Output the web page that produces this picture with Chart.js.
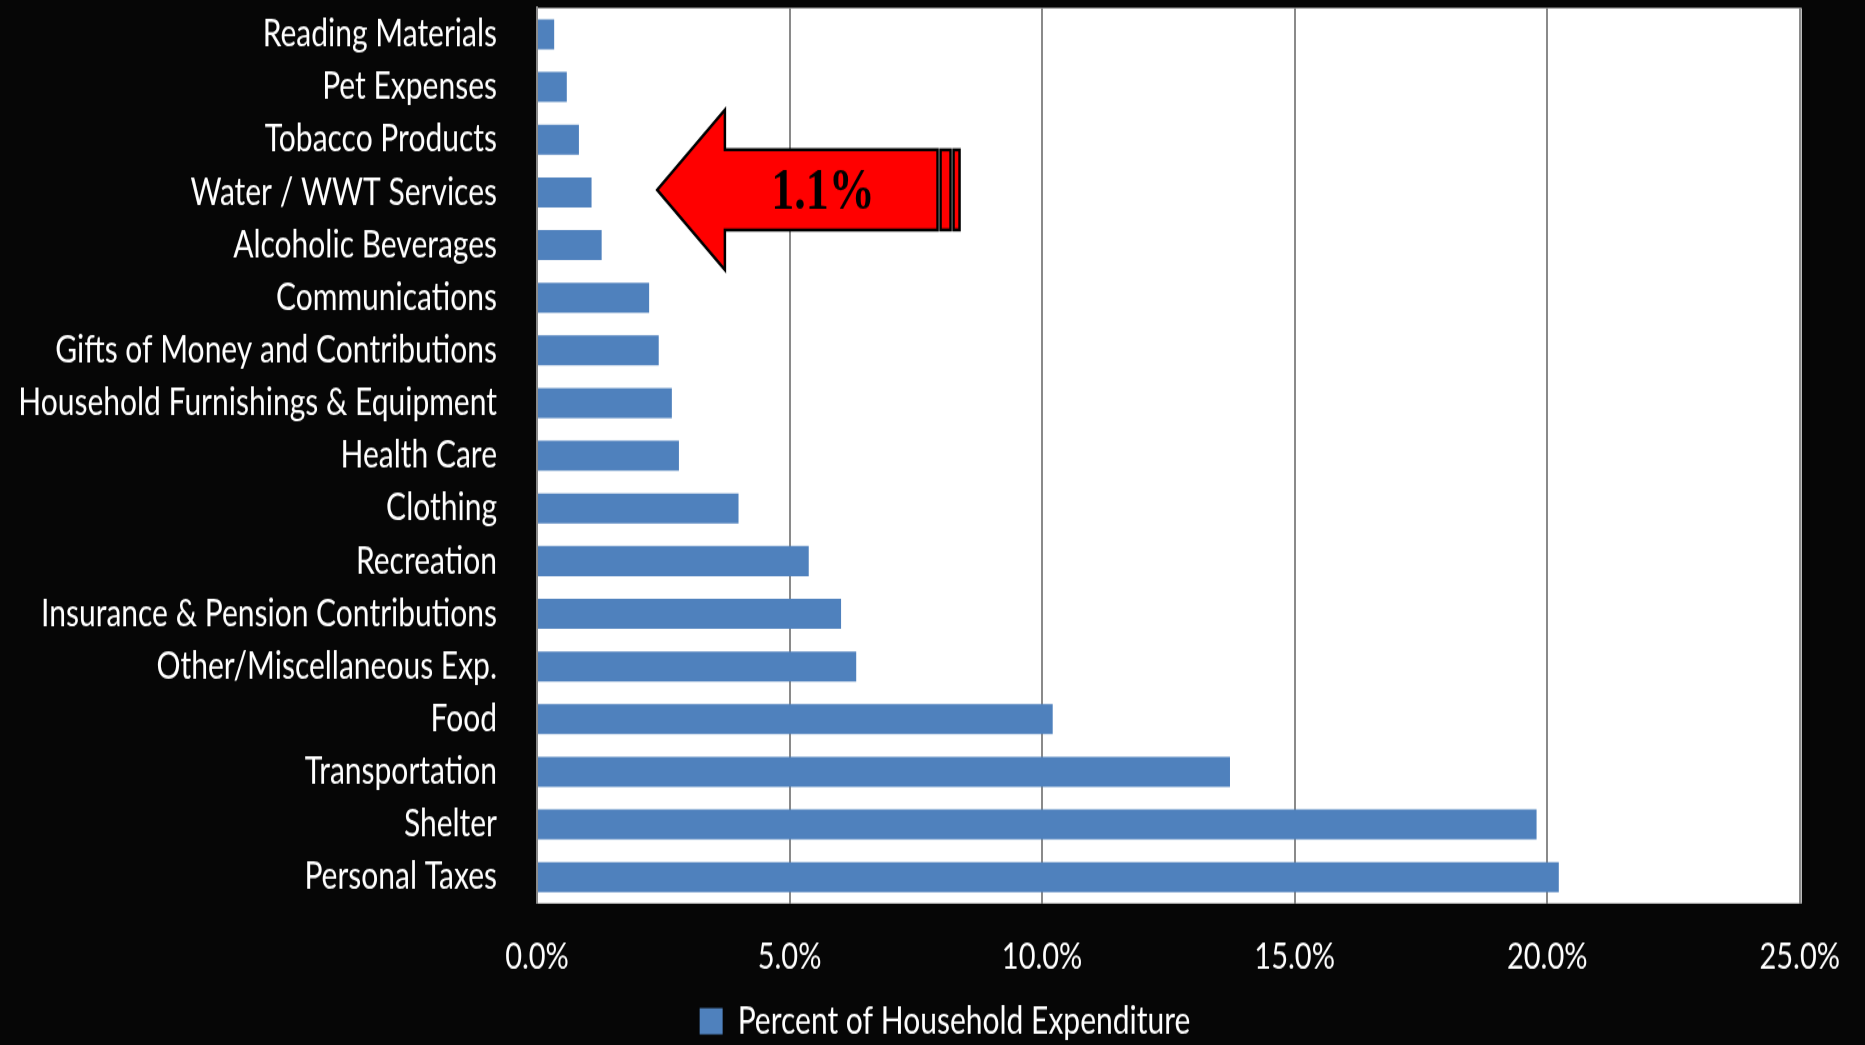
<!DOCTYPE html>
<html>
<head>
<meta charset="utf-8">
<script src="https://cdn.jsdelivr.net/npm/chart.js@4.4.1/dist/chart.umd.min.js"></script>
<style>
  html, body { margin: 0; padding: 0; background: #060606; overflow: hidden; }
  /* the source slide is stretched vertically, so the whole chart is too */
  #wrap { position: absolute; left: 0; top: 0; width: 1865px; height: 844px; transform: scaleY(1.25); transform-origin: 0 0; }
</style>
</head>
<body>
<div id="wrap"><canvas id="expChart" width="1865" height="844"></canvas></div>
<script>
// categories, top to bottom
const categories = [
    'Reading Materials',
    'Pet Expenses',
    'Tobacco Products',
    'Water / WWT Services',
    'Alcoholic Beverages',
    'Communications',
    'Gifts of Money and Contributions',
    'Household Furnishings & Equipment',
    'Health Care',
    'Clothing',
    'Recreation',
    'Insurance & Pension Contributions',
    'Other/Miscellaneous Exp.',
    'Food',
    'Transportation',
    'Shelter',
    'Personal Taxes'
];
// percent of household expenditure
const shares = [0.34, 0.59, 0.83, 1.08, 1.28, 2.22, 2.41, 2.67, 2.81, 3.99, 5.38, 6.02, 6.32, 10.21, 13.72, 19.79, 20.23];
const xTicks = [0, 5, 10, 15, 20, 25];
const seriesName = 'Percent of Household Expenditure';
const calloutCategory = 'Water / WWT Services';

// white plot area on the black slide
const plotBackground = {
    id: 'plotBackground',
    beforeDraw(chart) {
        const { ctx, chartArea: a } = chart;
        ctx.save();
        ctx.fillStyle = '#ffffff';
        ctx.fillRect(a.left, a.top, a.right - a.left + 2, a.bottom - a.top);
        ctx.restore();
    }
};

// legend sits a bit right of the canvas centre in the original
const legendShift = {
    id: 'legendShift',
    afterLayout(chart) {
        chart.legend.left += 90;
    }
};

// red block arrow pointing at the water bar
const calloutArrow = {
    id: 'calloutArrow',
    afterDatasetsDraw(chart) {
        const { ctx, scales: { x, y } } = chart;
        const idx = categories.indexOf(calloutCategory);
        const cy = y.getPixelForValue(idx) - 2;
        const step = y.getPixelForValue(1) - y.getPixelForValue(0);
        const tipX = x.getPixelForValue(2.38);
        const neckX = x.getPixelForValue(3.72);
        const endX = x.getPixelForValue(7.93);
        const headH = step * 1.52;
        const shaftH = step * 0.76;

        ctx.save();
        ctx.fillStyle = '#ff0000';
        ctx.strokeStyle = '#000000';
        ctx.lineWidth = 2.5;
        ctx.lineJoin = 'miter';
        ctx.beginPath();
        ctx.moveTo(tipX, cy);
        ctx.lineTo(neckX, cy - headH);
        ctx.lineTo(neckX, cy - shaftH);
        ctx.lineTo(endX, cy - shaftH);
        ctx.lineTo(endX, cy + shaftH);
        ctx.lineTo(neckX, cy + shaftH);
        ctx.lineTo(neckX, cy + headH);
        ctx.closePath();
        ctx.fill();
        ctx.stroke();

        // the two thin stripes at the tail
        [[3, 10], [16, 6]].forEach(([off, w]) => {
            ctx.fillRect(endX + off, cy - shaftH, w, shaftH * 2);
            ctx.strokeRect(endX + off, cy - shaftH, w, shaftH * 2);
        });

        ctx.fillStyle = '#000000';
        ctx.font = 'bold 46px "Liberation Serif"';
        ctx.textAlign = 'center';
        ctx.textBaseline = 'alphabetic';
        ctx.fillText(shares[idx].toFixed(1) + '%', x.getPixelForValue(5.66), cy + 15);
        ctx.restore();
    }
};

const canvas = document.getElementById('expChart');
canvas.chart = new Chart(canvas.getContext('2d'), {
    type: 'bar',
    data: {
        labels: categories,
        datasets: [{
            label: seriesName,
            data: shares,
            backgroundColor: '#4f81bd',
            borderWidth: 0,
            barPercentage: 0.57,
            categoryPercentage: 1.0
        }]
    },
    options: {
        indexAxis: 'y',
        responsive: false,
        animation: false,
        devicePixelRatio: 1,
        layout: { padding: { top: 6.4, right: 65, bottom: 2, left: 0 } },
        scales: {
            x: {
                min: 0,
                max: 25,
                afterBuildTicks: scale => { scale.ticks = xTicks.map(v => ({ value: v })); },
                afterFit: scale => { scale.height = 79.2; },
                grid: { color: '#8a8a8a', lineWidth: 2, drawTicks: false },
                border: { display: false },
                ticks: {
                    color: '#ffffff',
                    font: { family: 'Lato', size: 29 },
                    padding: 25,
                    maxRotation: 0,
                    callback: v => Number(v).toFixed(1) + '%'
                }
            },
            y: {
                afterFit: scale => {
                    scale.width = 537;
                    // tick padding would otherwise push the plot down
                    scale.paddingTop = 0;
                    scale.paddingBottom = 0;
                },
                grid: { display: false, drawTicks: false },
                border: { display: true, color: '#8a8a8a', width: 2 },
                ticks: { color: '#ffffff', font: { family: 'Lato', size: 30 }, padding: 40, autoSkip: false }
            }
        },
        plugins: {
            legend: {
                position: 'bottom',
                labels: {
                    color: '#ffffff',
                    font: { family: 'Lato', size: 30 },
                    boxWidth: 23,
                    boxHeight: 21,
                    padding: 0
                }
            },
            tooltip: { enabled: false }
        }
    },
    plugins: [plotBackground, legendShift, calloutArrow]
});
</script>
</body>
</html>
